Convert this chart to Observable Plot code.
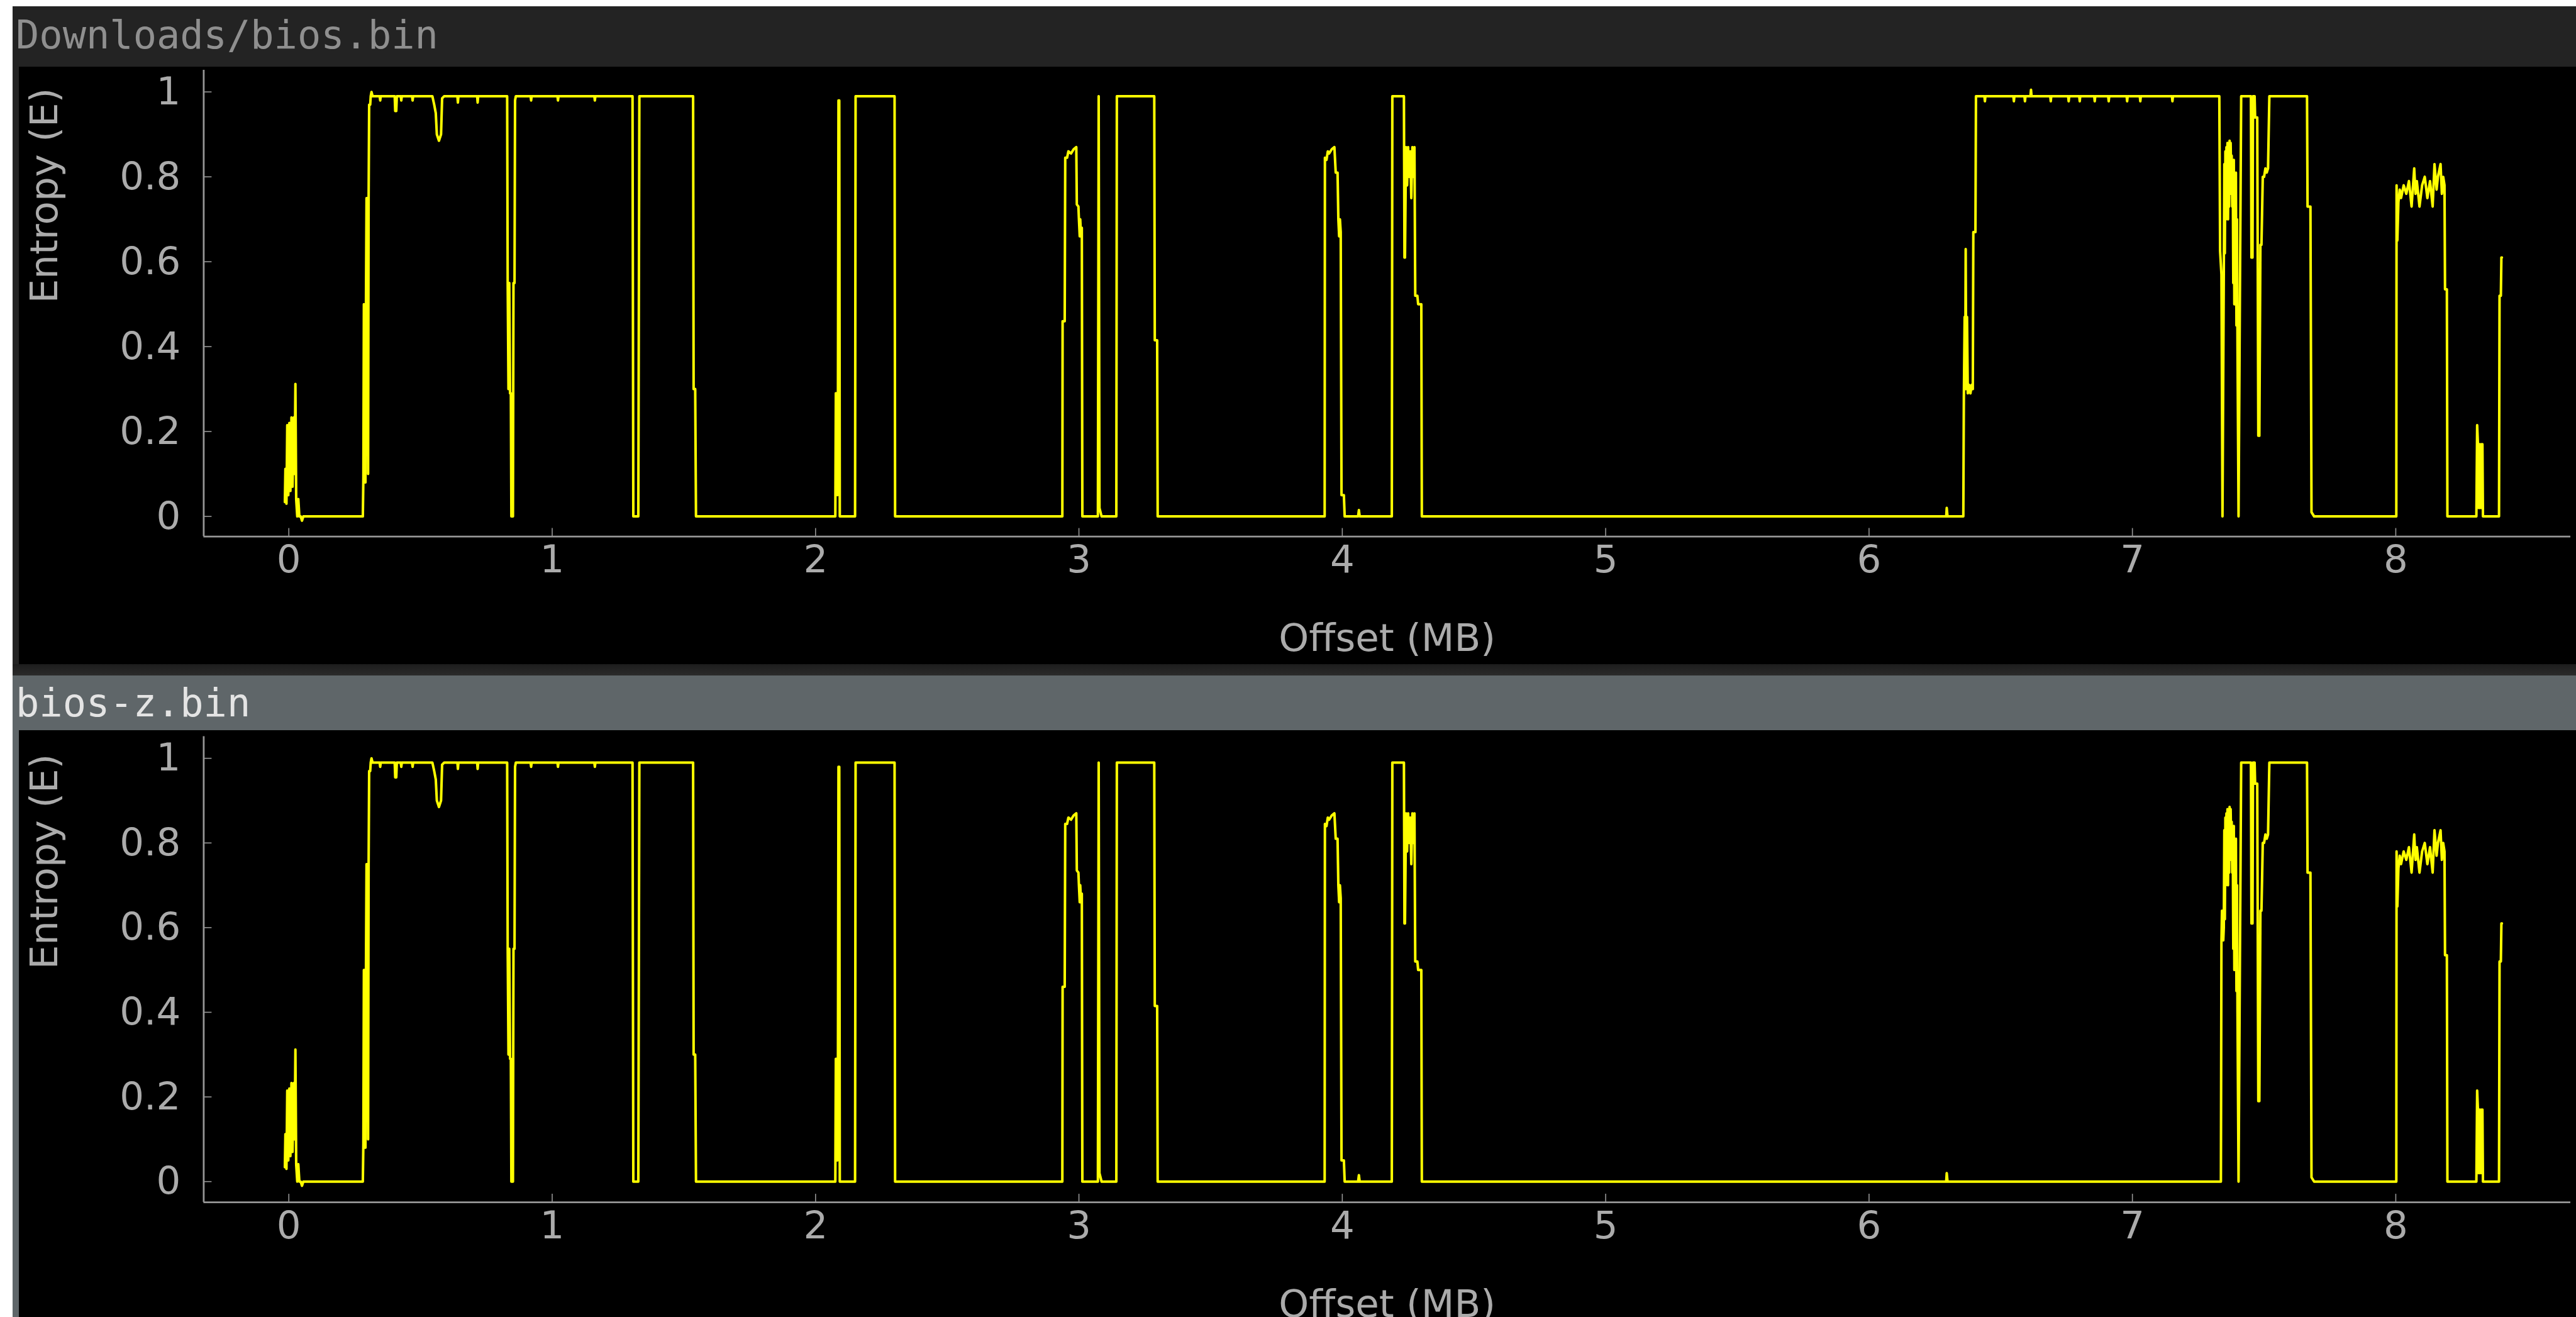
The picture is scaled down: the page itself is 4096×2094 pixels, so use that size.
<!DOCTYPE html>
<html>
<head>
<meta charset="utf-8">
<script src="https://cdn.jsdelivr.net/npm/d3@7"></script>
<script src="https://cdn.jsdelivr.net/npm/@observablehq/plot@0.6"></script>
<style>
html,body{margin:0;padding:0;background:#fff;width:4096px;height:2094px;overflow:hidden;}
.panel{position:absolute;left:20px;width:4076px;}
#p1{top:10px;height:1046px;background:#232323;}
#sep{position:absolute;left:20px;width:4076px;top:1056px;height:18px;background:linear-gradient(#1d1d1d,#2b2b2b);}
#p2{top:1074px;height:1020px;background:#5f6669;}
.title{position:absolute;left:0;top:0;width:100%;display:flex;align-items:center;font-family:"DejaVu Sans Mono";font-size:62px;white-space:pre;padding-left:5px;box-sizing:border-box;}
#p1 .title{height:96px;color:#8f8f8f;padding-bottom:5px;}
#p2 .title{height:87px;color:#e4e4e4;}
.plotbox{position:absolute;left:10px;background:#000;width:4066px;overflow:hidden;}
#p1 .plotbox{top:96px;height:950px;}
#p2 .plotbox{top:87px;height:933px;}
.plotbox svg{display:block;}
</style>
</head>
<body>
<div id="p1" class="panel"><div class="title" id="t1"></div><div class="plotbox" id="c1"></div></div>
<div id="sep"></div>
<div id="p2" class="panel"><div class="title" id="t2"></div><div class="plotbox" id="c2"></div></div>
<script>
// ---- data: [offset (MB), entropy] ----
const panelTitles = ["Downloads/bios.bin", "bios-z.bin"];
const xLabel = "Offset (MB)";
const yLabel = "Entropy (E)";
const xTicks = [0, 1, 2, 3, 4, 5, 6, 7, 8];
const yTicks = [0, 0.2, 0.4, 0.6, 0.8, 1];

const biosBin = [
[-0.015,0.034],[-0.013,0.112],[-0.009,0.03],[-0.006,0.215],[-0.002,0.05],[0.002,0.22],[0.006,0.06],[0.010,0.233],[0.014,0.07],[0.019,0.233],[0.022,0.1],[0.025,0.312],[0.028,0.04],[0.032,0],[0.036,0.041],[0.040,0],[0.045,0],[0.050,-0.01],[0.055,0],
[0.281,0],[0.283,0.09],[0.285,0.5],[0.287,0.1],[0.289,0.5],[0.291,0.08],[0.293,0.52],[0.295,0.75],[0.297,0.5],[0.299,0.75],[0.301,0.1],[0.303,0.75],[0.305,0.97],[0.309,0.97],[0.311,0.99],[0.314,1.0],[0.318,0.99],
[0.345,0.99],[0.347,0.98],[0.349,0.99],[0.402,0.99],[0.404,0.955],[0.408,0.955],[0.410,0.99],[0.425,0.99],[0.427,0.98],[0.429,0.99],[0.468,0.99],[0.470,0.98],[0.472,0.99],[0.545,0.99],[0.552,0.97],[0.558,0.95],[0.562,0.9],[0.57,0.885],[0.578,0.9],[0.582,0.985],[0.59,0.99],[0.640,0.99],[0.642,0.975],[0.644,0.99],[0.715,0.99],[0.717,0.975],[0.719,0.99],[0.829,0.99],
[0.831,0.55],[0.834,0.3],[0.837,0.55],[0.84,0.29],[0.843,0.29],[0.845,0],[0.851,0],[0.853,0.55],[0.857,0.55],[0.859,0.98],[0.862,0.99],[0.918,0.99],[0.92,0.98],[0.922,0.99],[1.02,0.99],[1.022,0.98],[1.024,0.99],[1.16,0.99],[1.162,0.98],[1.164,0.99],[1.305,0.99],[1.308,0],[1.327,0],[1.331,0.99],[1.535,0.99],[1.537,0.30],[1.543,0.30],[1.546,0],
[2.075,0],[2.077,0.29],[2.079,0.05],[2.081,0.29],[2.083,0.05],[2.085,0.29],[2.087,0.98],[2.090,0.98],[2.092,0],[2.150,0],[2.152,0.99],[2.300,0.99],[2.302,0],
[2.937,0],[2.938,0.46],[2.946,0.46],[2.948,0.845],[2.955,0.845],[2.96,0.86],[2.97,0.855],[2.98,0.865],[2.99,0.87],[2.992,0.735],[2.998,0.73],[3.0,0.70],[3.003,0.66],[3.005,0.70],[3.008,0.66],[3.011,0.68],[3.013,0],
[3.072,0],[3.075,0.99],[3.078,0.02],[3.082,0.01],[3.086,0],[3.142,0],[3.144,0.99],[3.286,0.99],[3.288,0.415],[3.297,0.415],[3.299,0],
[3.933,0],[3.934,0.845],[3.94,0.84],[3.945,0.86],[3.95,0.855],[3.96,0.865],[3.97,0.87],[3.975,0.81],[3.982,0.81],[3.985,0.70],[3.988,0.66],[3.991,0.70],[3.994,0.67],[3.997,0.05],[4.006,0.05],[4.009,0],[4.06,0],[4.063,0.015],[4.066,0],
[4.188,0],[4.19,0.99],[4.234,0.99],[4.236,0.61],[4.238,0.61],[4.242,0.87],[4.246,0.78],[4.25,0.87],[4.254,0.80],[4.258,0.86],[4.262,0.75],[4.266,0.87],[4.27,0.80],[4.274,0.87],[4.277,0.52],[4.285,0.52],[4.288,0.50],[4.30,0.50],[4.302,0],
[6.293,0],[6.295,0.02],[6.298,0],
[6.358,0],[6.36,0.28],[6.363,0.47],[6.365,0.30],[6.367,0.63],[6.369,0.30],[6.372,0.47],[6.375,0.29],[6.38,0.31],[6.385,0.29],[6.39,0.31],[6.394,0.30],[6.396,0.67],[6.404,0.67],[6.406,0.99],
[6.438,0.99],[6.44,0.978],[6.442,0.99],[6.548,0.99],[6.55,0.978],[6.552,0.99],[6.59,0.99],[6.592,0.978],[6.594,0.99],[6.613,0.99],[6.615,1.005],[6.617,0.99],[6.688,0.99],[6.69,0.978],[6.692,0.99],[6.756,0.99],[6.758,0.978],[6.76,0.99],[6.798,0.99],[6.80,0.978],[6.802,0.99],[6.855,0.99],[6.857,0.978],[6.859,0.99],[6.908,0.99],[6.91,0.978],[6.912,0.99],[6.978,0.99],[6.98,0.978],[6.982,0.99],[7.028,0.99],[7.03,0.978],[7.032,0.99],[7.15,0.99],[7.152,0.978],[7.154,0.99],[7.330,0.99],
[7.333,0.625],[7.338,0.57],[7.342,0],[7.347,0.57],[7.349,0.83],[7.351,0.62],[7.353,0.86],[7.355,0.70],[7.357,0.87],[7.359,0.74],[7.361,0.88],[7.363,0.70],[7.365,0.87],[7.367,0.73],[7.369,0.885],[7.371,0.76],[7.373,0.88],[7.375,0.80],[7.377,0.85],[7.379,0.73],[7.381,0.82],[7.383,0.55],[7.385,0.84],[7.387,0.50],[7.389,0.80],[7.391,0.60],[7.393,0.81],[7.395,0.45],[7.397,0.70],[7.399,0.40],[7.403,0],[7.407,0.40],[7.413,0.99],
[7.45,0.99],[7.452,0.61],[7.456,0.61],[7.458,0.99],[7.464,0.99],[7.466,0.94],[7.474,0.94],[7.478,0.19],[7.482,0.19],[7.486,0.64],[7.49,0.64],[7.495,0.80],[7.50,0.80],[7.505,0.82],[7.51,0.81],[7.515,0.82],[7.52,0.99],[7.663,0.99],[7.665,0.73],[7.676,0.73],[7.68,0.01],[7.69,0],
[8.002,0],[8.003,0.78],[8.006,0.65],[8.01,0.74],[8.015,0.77],[8.02,0.75],[8.03,0.78],[8.04,0.76],[8.05,0.79],[8.06,0.73],[8.07,0.82],[8.075,0.76],[8.08,0.79],[8.09,0.73],[8.1,0.78],[8.11,0.80],[8.12,0.75],[8.13,0.79],[8.14,0.73],[8.147,0.83],[8.155,0.77],[8.16,0.80],[8.17,0.83],[8.175,0.76],[8.18,0.80],[8.185,0.78],[8.187,0.535],[8.194,0.535],[8.196,0],
[8.306,0],[8.309,0.215],[8.312,0.17],[8.315,0.02],[8.318,0.17],[8.321,0.02],[8.324,0.17],[8.327,0.02],[8.329,0.17],[8.331,0],[8.392,0],[8.394,0.52],[8.399,0.52],[8.401,0.61],[8.403,0.61]
];

const biosZBin = [
[-0.015,0.034],[-0.013,0.112],[-0.009,0.03],[-0.006,0.215],[-0.002,0.05],[0.002,0.22],[0.006,0.06],[0.010,0.233],[0.014,0.07],[0.019,0.233],[0.022,0.1],[0.025,0.312],[0.028,0.04],[0.032,0],[0.036,0.041],[0.040,0],[0.045,0],[0.050,-0.01],[0.055,0],
[0.281,0],[0.283,0.09],[0.285,0.5],[0.287,0.1],[0.289,0.5],[0.291,0.08],[0.293,0.52],[0.295,0.75],[0.297,0.5],[0.299,0.75],[0.301,0.1],[0.303,0.75],[0.305,0.97],[0.309,0.97],[0.311,0.99],[0.314,1.0],[0.318,0.99],
[0.345,0.99],[0.347,0.98],[0.349,0.99],[0.402,0.99],[0.404,0.955],[0.408,0.955],[0.410,0.99],[0.425,0.99],[0.427,0.98],[0.429,0.99],[0.468,0.99],[0.470,0.98],[0.472,0.99],[0.545,0.99],[0.552,0.97],[0.558,0.95],[0.562,0.9],[0.57,0.885],[0.578,0.9],[0.582,0.985],[0.59,0.99],[0.640,0.99],[0.642,0.975],[0.644,0.99],[0.715,0.99],[0.717,0.975],[0.719,0.99],[0.829,0.99],
[0.831,0.55],[0.834,0.3],[0.837,0.55],[0.84,0.29],[0.843,0.29],[0.845,0],[0.851,0],[0.853,0.55],[0.857,0.55],[0.859,0.98],[0.862,0.99],[0.918,0.99],[0.92,0.98],[0.922,0.99],[1.02,0.99],[1.022,0.98],[1.024,0.99],[1.16,0.99],[1.162,0.98],[1.164,0.99],[1.305,0.99],[1.308,0],[1.327,0],[1.331,0.99],[1.535,0.99],[1.537,0.30],[1.543,0.30],[1.546,0],
[2.075,0],[2.077,0.29],[2.079,0.05],[2.081,0.29],[2.083,0.05],[2.085,0.29],[2.087,0.98],[2.090,0.98],[2.092,0],[2.150,0],[2.152,0.99],[2.300,0.99],[2.302,0],
[2.937,0],[2.938,0.46],[2.946,0.46],[2.948,0.845],[2.955,0.845],[2.96,0.86],[2.97,0.855],[2.98,0.865],[2.99,0.87],[2.992,0.735],[2.998,0.73],[3.0,0.70],[3.003,0.66],[3.005,0.70],[3.008,0.66],[3.011,0.68],[3.013,0],
[3.072,0],[3.075,0.99],[3.078,0.02],[3.082,0.01],[3.086,0],[3.142,0],[3.144,0.99],[3.286,0.99],[3.288,0.415],[3.297,0.415],[3.299,0],
[3.933,0],[3.934,0.845],[3.94,0.84],[3.945,0.86],[3.95,0.855],[3.96,0.865],[3.97,0.87],[3.975,0.81],[3.982,0.81],[3.985,0.70],[3.988,0.66],[3.991,0.70],[3.994,0.67],[3.997,0.05],[4.006,0.05],[4.009,0],[4.06,0],[4.063,0.015],[4.066,0],
[4.188,0],[4.19,0.99],[4.234,0.99],[4.236,0.61],[4.238,0.61],[4.242,0.87],[4.246,0.78],[4.25,0.87],[4.254,0.80],[4.258,0.86],[4.262,0.75],[4.266,0.87],[4.27,0.80],[4.274,0.87],[4.277,0.52],[4.285,0.52],[4.288,0.50],[4.30,0.50],[4.302,0],
[6.293,0],[6.295,0.02],[6.298,0],
[7.336,0],[7.338,0.565],[7.340,0.64],[7.342,0.6],[7.345,0.57],[7.347,0.60],[7.349,0.83],[7.351,0.62],[7.353,0.86],[7.355,0.70],[7.357,0.87],[7.359,0.74],[7.361,0.88],[7.363,0.70],[7.365,0.87],[7.367,0.73],[7.369,0.885],[7.371,0.76],[7.373,0.88],[7.375,0.80],[7.377,0.85],[7.379,0.73],[7.381,0.82],[7.383,0.55],[7.385,0.84],[7.387,0.50],[7.389,0.80],[7.391,0.60],[7.393,0.81],[7.395,0.45],[7.397,0.70],[7.399,0.40],[7.403,0],[7.407,0.40],[7.413,0.99],
[7.45,0.99],[7.452,0.61],[7.456,0.61],[7.458,0.99],[7.464,0.99],[7.466,0.94],[7.474,0.94],[7.478,0.19],[7.482,0.19],[7.486,0.64],[7.49,0.64],[7.495,0.80],[7.50,0.80],[7.505,0.82],[7.51,0.81],[7.515,0.82],[7.52,0.99],[7.663,0.99],[7.665,0.73],[7.676,0.73],[7.68,0.01],[7.69,0],
[8.002,0],[8.003,0.78],[8.006,0.65],[8.01,0.74],[8.015,0.77],[8.02,0.75],[8.03,0.78],[8.04,0.76],[8.05,0.79],[8.06,0.73],[8.07,0.82],[8.075,0.76],[8.08,0.79],[8.09,0.73],[8.1,0.78],[8.11,0.80],[8.12,0.75],[8.13,0.79],[8.14,0.73],[8.147,0.83],[8.155,0.77],[8.16,0.80],[8.17,0.83],[8.175,0.76],[8.18,0.80],[8.185,0.78],[8.187,0.535],[8.194,0.535],[8.196,0],
[8.306,0],[8.309,0.215],[8.312,0.17],[8.315,0.02],[8.318,0.17],[8.321,0.02],[8.324,0.17],[8.327,0.02],[8.329,0.17],[8.331,0],[8.392,0],[8.394,0.52],[8.399,0.52],[8.401,0.61],[8.403,0.61]
];

// ---- styling / layout ----
const xDomain = [-0.3232, 8.664];
const lineColor = "#ffff00";
const axisColor = "#969696";
const textColor = "#ababab";

function panel(series, o) {
  const plotW = o.width - o.marginLeft - o.marginRight;
  const plotH = o.height - o.marginTop - o.marginBottom;
  return Plot.plot({
    width: o.width, height: o.height,
    marginLeft: o.marginLeft, marginRight: o.marginRight,
    marginTop: o.marginTop, marginBottom: o.marginBottom,
    style: {background: "transparent", fontFamily: "DejaVu Sans", fontSize: "61px", overflow: "visible", color: textColor},
    x: {domain: xDomain},
    y: {domain: o.yDomain},
    marks: [
      Plot.axisX(xTicks, {tickSize: 0, tickPadding: 14, tickFormat: d => String(d), color: textColor, label: null}),
      Plot.axisY(yTicks, {tickSize: 0, tickPadding: 36.7, tickFormat: d => String(d), color: textColor, label: null}),
      Plot.ruleX([xDomain[0]], {stroke: axisColor, strokeWidth: 2.8}),
      Plot.ruleY([o.yDomain[0]], {stroke: axisColor, strokeWidth: 2.8}),
      Plot.ruleX(xTicks, {x: d => d, insetTop: plotH - 13, stroke: axisColor, strokeWidth: 1.6}),
      Plot.ruleY(yTicks, {y: d => d, insetRight: plotW - 13, stroke: axisColor, strokeWidth: 1.6}),
      Plot.text([xLabel], {text: d => d, frameAnchor: "bottom", dy: 162.6, lineAnchor: "middle", fill: textColor}),
      Plot.text([yLabel], {text: d => d, frameAnchor: "left", rotate: -90, dx: -252.9, lineAnchor: "middle", fill: textColor}),
      Plot.line(series, {x: d => d[0], y: d => d[1], stroke: lineColor, strokeWidth: 4})
    ]
  });
}

document.getElementById("t1").textContent = panelTitles[0];
document.getElementById("t2").textContent = panelTitles[1];
document.getElementById("c1").append(panel(biosBin, {width: 4066, height: 950, marginLeft: 293.4, marginRight: 9, marginTop: 4.9, marginBottom: 203.4, yDomain: [-0.0474, 1.0515]}));
document.getElementById("c2").append(panel(biosZBin, {width: 4066, height: 933, marginLeft: 293.4, marginRight: 9, marginTop: 9.4, marginBottom: 182.9, yDomain: [-0.0489, 1.0517]}));
</script>
</body>
</html>
